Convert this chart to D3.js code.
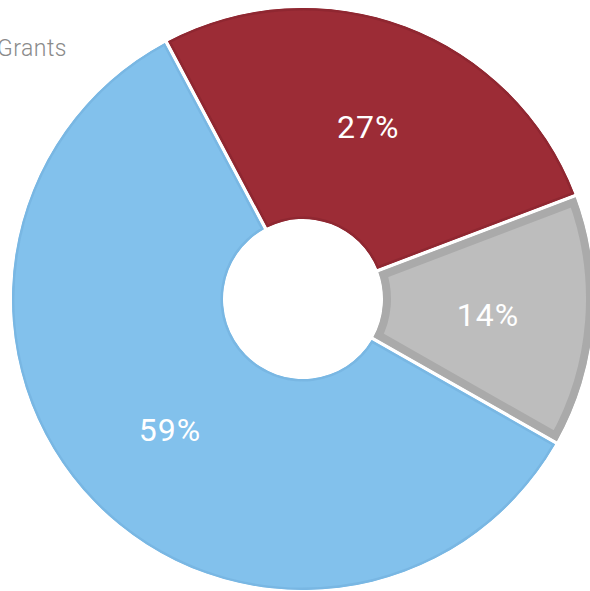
<!DOCTYPE html>
<html>
<head>
<meta charset="utf-8">
<script src="https://cdn.jsdelivr.net/npm/d3@7"></script>
<style>
  html, body { margin: 0; padding: 0; background: #fff; }
  svg { display: block; }
</style>
</head>
<body>
<svg id="chart" width="590" height="591"></svg>
<script>
// Funding shares
const categories = ["Contracts", "Other", "Grants"];
const values = [27, 14, 59];
const labels = ["27%", "14%", "59%"];
const fills = ["#9c2c36", "#bdbdbd", "#82c1ec"];
const borders = ["#8f2731", "#aaaaaa", "#79b7e3"];
const borderWidths = [2.5, 8, 2.5];

const svg = d3.select("#chart");
const cx = 303, cy = 299;
const outerR = 291, innerR = 80;

const pie = d3.pie()
  .sort(null)
  .value(d => d)
  .startAngle(-28 * Math.PI / 180)
  .endAngle((360 - 28) * Math.PI / 180);

const arcs = pie(values);

const arc = d3.arc()
  .innerRadius(innerR)
  .outerRadius(outerR)
  .padRadius(outerR)
  .padAngle(3.5 / outerR);

const labelArc = d3.arc()
  .innerRadius(innerR)
  .outerRadius(outerR);

const defs = svg.append("defs");
const g = svg.append("g").attr("transform", `translate(${cx},${cy})`);

// Each slice: fill plus an inner border (double-width stroke clipped to the slice)
arcs.forEach((a, i) => {
  const id = "clip-" + i;
  defs.append("clipPath").attr("id", id)
    .append("path")
    .attr("d", arc(a));
  g.append("path")
    .attr("d", arc(a))
    .attr("fill", fills[i])
    .attr("stroke", borders[i])
    .attr("stroke-width", borderWidths[i] * 2)
    .attr("stroke-linejoin", "round")
    .attr("clip-path", `url(#${id})`);
});

arcs.forEach((a, i) => {
  const [x, y] = labelArc.centroid(a);
  g.append("text")
    .attr("x", x)
    .attr("y", y + 2)
    .attr("text-anchor", "middle")
    .attr("dominant-baseline", "central")
    .attr("fill", "#ffffff")
    .attr("font-family", "Roboto, 'DejaVu Sans', sans-serif")
    .attr("font-size", 32)
    .attr("letter-spacing", 1)
    .text(labels[i]);
});

// Legend entry, partly outside the left edge
svg.append("text")
  .attr("x", 67)
  .attr("y", 56)
  .attr("text-anchor", "end")
  .attr("fill", "#8a8a8a")
  .attr("font-family", "Roboto, 'DejaVu Sans', sans-serif")
  .attr("font-weight", 300)
  .attr("font-size", 23)
  .attr("letter-spacing", 0.5)
  .text(categories[2]);
</script>
</body>
</html>
